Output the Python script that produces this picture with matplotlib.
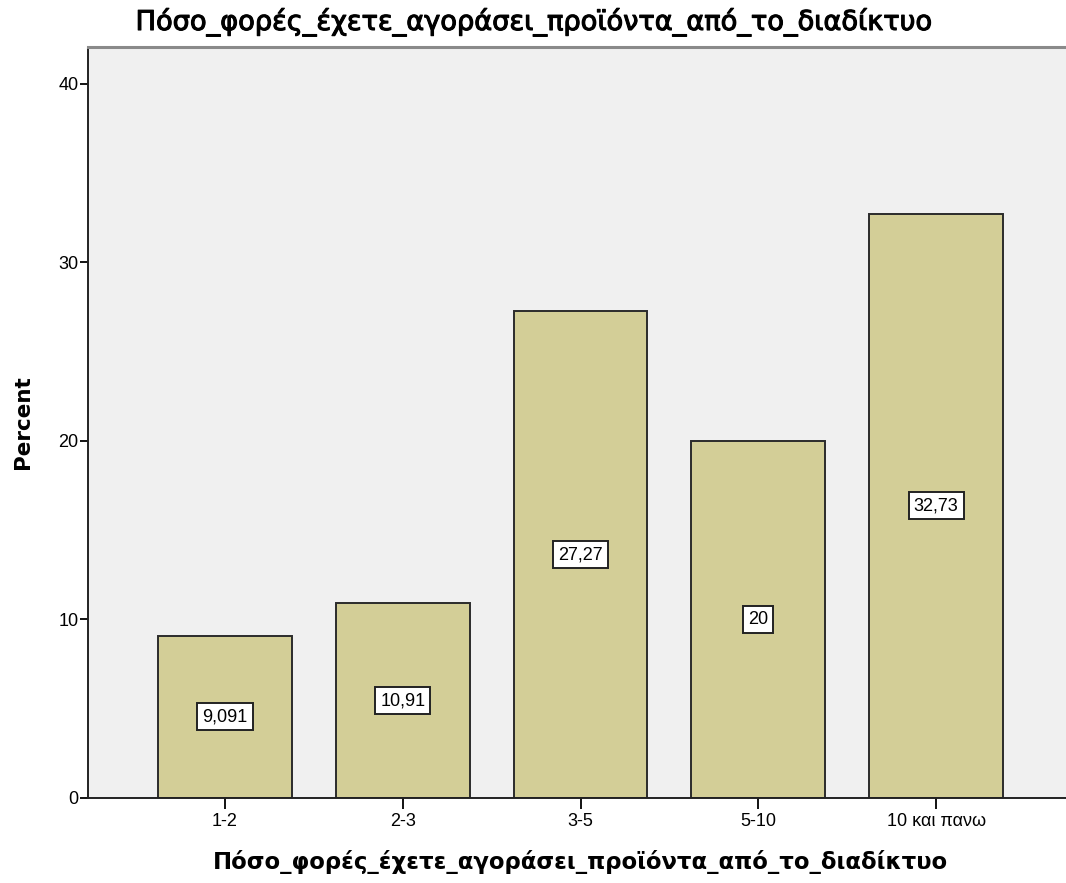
import matplotlib
matplotlib.use("Agg")
import matplotlib.pyplot as plt
import matplotlib.patheffects as pe

categories = ["1-2", "2-3", "3-5", "5-10", "10 και πανω"]
percent = [9.091, 10.91, 27.27, 20, 32.73]
value_labels = ["9,091", "10,91", "27,27", "20", "32,73"]
yticks = [0, 10, 20, 30, 40]
title = "Πόσο_φορές_έχετε_αγοράσει_προϊόντα_από_το_διαδίκτυο"

plt.rcParams["font.family"] = ["Liberation Sans", "DejaVu Sans"]

fig = plt.figure(figsize=(10.66, 8.83), dpi=100)
fig.patch.set_facecolor("white")
ax = fig.add_axes([88 / 1066, 85 / 883, 985 / 1066, 751 / 883])
ax.set_facecolor("#F0F0F0")

x = list(range(len(categories)))
ax.bar(x, percent, width=0.753, color="#D3CE97", edgecolor="#2b2b2b", linewidth=1.4, zorder=2)

for xi, v, lab in zip(x, percent, value_labels):
    ax.text(xi, v / 2, lab, ha="center", va="center", fontsize=13, color="black",
            bbox=dict(boxstyle="square,pad=0.28", facecolor="white", edgecolor="#222222", linewidth=1.4),
            zorder=3)

ax.set_xlim(-0.77, 4.77)
ax.set_ylim(0, 42.07)
ax.set_xticks(x)
ax.set_xticklabels(categories, fontsize=13)
ax.set_yticks(yticks)
ax.set_yticklabels([str(t) for t in yticks], fontsize=13)
ax.tick_params(axis="y", length=6, width=1.3, pad=1)
ax.tick_params(axis="x", length=8, width=1.3, pad=3)

for side in ["left", "bottom"]:
    ax.spines[side].set_linewidth(1.4)
    ax.spines[side].set_color("#222222")
ax.spines["top"].set_color("#8a8a8a")
ax.spines["top"].set_linewidth(2.2)
ax.spines["right"].set_visible(False)

ax.set_ylabel("Percent", fontsize=15.5, fontweight="bold", family="DejaVu Sans")
ax.yaxis.set_label_coords((33 - 88) / 985, 0.5)
ax.set_xlabel(title, fontsize=16.4, fontweight="bold", family="DejaVu Sans")
ax.xaxis.set_label_coords((580 - 88) / 985, (798 - 850) / 751)
fig.text(535 / 1066, 1 - 22 / 883, title, ha="center", va="center", fontsize=19.6,
         family="DejaVu Sans",
         path_effects=[pe.withStroke(linewidth=0.8, foreground="black")])

fig.savefig("out.png", dpi=100)
